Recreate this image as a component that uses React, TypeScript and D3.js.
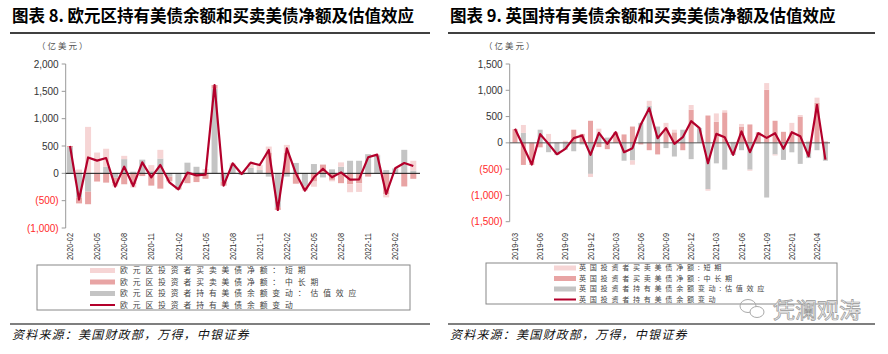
import React, { useEffect, useRef } from "react";
import * as d3 from "d3";

// 欧元区 (2020-02 ~ 2023-04)
const euMonths = [
  "2020-02", "2020-03", "2020-04", "2020-05", "2020-06", "2020-07", "2020-08", "2020-09", "2020-10", "2020-11",
  "2020-12", "2021-01", "2021-02", "2021-03", "2021-04", "2021-05", "2021-06", "2021-07", "2021-08", "2021-09",
  "2021-10", "2021-11", "2021-12", "2022-01", "2022-02", "2022-03", "2022-04", "2022-05", "2022-06", "2022-07",
  "2022-08", "2022-09", "2022-10", "2022-11", "2022-12", "2023-01", "2023-02", "2023-03", "2023-04",
];
const euShort = [0, 70, 850, 380, 330, -60, 60, -60, 0, 110, 160, -25, 0, 0, 0, 80, 0, 0, 33, 20, 95, 90, 110, 0, 140, 0, -37, -95, 0, -26, 80, -146, -160, 0, 12, -60, 0, 0, 180];
const euLong = [20, -110, -230, -150, -170, -100, -200, -200, -50, -225, -280, -80, -45, -180, -160, -100, 66, -76, 0, 0, 0, 0, 380, -50, 380, -190, -40, -150, 160, -120, -180, -200, -180, -60, 0, -380, 0, -240, -100];
const euVal = [480, -440, -335, 0, 120, -80, 260, 30, 250, 40, 270, -60, -250, 195, 120, 0, 1550, -150, 150, -30, 100, 60, -60, -620, -60, 190, -240, 170, -75, 73, 120, 230, 230, 350, 330, 60, 90, 430, 50];
const euTotal = [500, -480, 290, 232, 280, -244, 122, -232, 200, -73, 152, -165, -293, 12, -37, -24, 1616, -226, 183, -12, 195, 152, 427, -671, 457, 0, -317, -73, 85, -73, 18, -116, -110, 293, 342, -378, 92, 189, 134];
const euTicks = [-1000, -500, 0, 500, 1000, 1500, 2000];

// 英国 (2019-03 ~ 2022-05)
const ukMonths = [
  "2019-03", "2019-04", "2019-05", "2019-06", "2019-07", "2019-08", "2019-09", "2019-10", "2019-11", "2019-12",
  "2020-01", "2020-02", "2020-03", "2020-04", "2020-05", "2020-06", "2020-07", "2020-08", "2020-09", "2020-10",
  "2020-11", "2020-12", "2021-01", "2021-02", "2021-03", "2021-04", "2021-05", "2021-06", "2021-07", "2021-08",
  "2021-09", "2021-10", "2021-11", "2022-01", "2022-02", "2022-03", "2022-04", "2022-05",
];
const ukShort = [0, 150, 0, 0, 170, 10, 40, 0, 0, -60, 100, 0, 0, 0, -80, 0, 100, 0, 130, 50, 0, 90, 0, -30, 160, 40, 20, 50, -20, -20, 127, -20, 0, 180, 30, 40, 100, 0];
const ukLong = [260, -420, -420, -85, 0, 0, 0, 250, 170, 420, -80, -120, 200, 160, 310, -30, -140, -220, 250, 200, -140, 630, 0, 520, 400, 580, 0, 310, 350, 200, 1010, 420, 210, 200, 500, 0, 760, 25];
const ukVal = [0, 190, 0, 250, -178, -228, -130, -160, -30, -590, 170, 100, 0, -340, -336, 380, 700, 310, -100, -260, 250, -310, 280, -880, -390, -510, -230, -140, -510, 0, -1040, -220, -324, -180, -400, -290, -140, -340];
const ukTotal = [267, -70, -413, 165, -20, -216, -114, 89, 140, -229, 190, -19, 203, -178, -102, 350, 660, 89, 280, -19, 108, 413, 280, -387, 171, 108, -229, 216, -178, 184, 95, 184, -114, 203, 127, -254, 724, -318];
const ukTicks = [-1500, -1000, -500, 0, 500, 1000, 1500];

const COL = { short: "#F6D5D5", long: "#E8A4A4", val: "#C4C4C4", line: "#B3002B" };
const CJK = '"Noto Sans CJK SC", "Noto Sans", sans-serif';
const NUM = '"Liberation Sans", Arial, sans-serif';

const fmt = (v: number) => (v < 0 ? `(${d3.format(",")(-v)})` : d3.format(",")(v));

function drawPanel(root: any, p: any) {
  const g = root.append("g");
  const x = d3.scalePoint().domain(p.cats).range([p.xStart, p.xEnd]);
  const y = d3.scaleLinear().domain(p.yDomain).range(p.yRange);

  // title + rules
  g.append("text").attr("x", p.left).attr("y", 22)
    .attr("font-family", CJK).attr("font-size", 16.5).attr("font-weight", 700)
    .text(p.title);
  g.append("line").attr("x1", p.left - 2).attr("x2", p.right).attr("y1", 33).attr("y2", 33)
    .attr("stroke", "#000").attr("stroke-width", 1.5);
  g.append("text").attr("x", p.unitX).attr("y", 49)
    .attr("font-family", CJK).attr("font-size", 8.5).attr("letter-spacing", 2).attr("fill", "#555")
    .text("（亿美元）");

  // stacked bars
  const rows = p.cats.map((c: string, i: number) => ({ cat: c, val: p.val[i], long: p.long[i], short: p.short[i] }));
  const series = d3.stack().keys(["val", "long", "short"]).offset(d3.stackOffsetDiverging)(rows as any);
  g.selectAll("g.s").data(series).enter().append("g")
    .attr("fill", (s: any) => (COL as any)[s.key])
    .selectAll("rect").data((s: any) => s).enter().append("rect")
    .attr("x", (d: any) => (x(d.data.cat) as number) - p.barW / 2)
    .attr("width", p.barW)
    .attr("y", (d: any) => y(Math.max(d[0], d[1])))
    .attr("height", (d: any) => Math.abs(y(d[0]) - y(d[1])));

  // y axis
  g.append("line").attr("x1", p.axisX).attr("x2", p.axisX).attr("y1", y(p.yDomain[1])).attr("y2", y(p.yDomain[0]))
    .attr("stroke", "#999").attr("stroke-width", 1);
  p.ticks.forEach((t: number) => {
    g.append("line").attr("x1", p.axisX - 4).attr("x2", p.axisX).attr("y1", y(t)).attr("y2", y(t))
      .attr("stroke", "#999");
    g.append("text").attr("x", p.axisX - 7).attr("y", y(t)).attr("dy", "0.35em")
      .attr("text-anchor", "end").attr("font-family", NUM).attr("font-size", 10)
      .attr("fill", t < 0 ? "#FF2B2B" : "#333").text(fmt(t));
  });

  // zero line
  g.append("line").attr("x1", p.axisX).attr("x2", p.zeroEnd).attr("y1", y(0)).attr("y2", y(0))
    .attr("stroke", p.zeroColor).attr("stroke-width", 1);

  // total line
  const line = d3.line<number>().x((_, i) => x(p.cats[i]) as number).y((d) => y(d));
  g.append("path").datum(p.total).attr("d", line).attr("fill", "none")
    .attr("stroke", COL.line).attr("stroke-width", 2.2).attr("stroke-linejoin", "round");

  // x labels, every third month
  p.cats.forEach((c: string, i: number) => {
    if (i % 3 !== 0) return;
    g.append("text").attr("transform", `translate(${x(c)},${p.xLabelY}) rotate(-90)`)
      .attr("text-anchor", "end").attr("dy", "0.35em")
      .attr("font-family", NUM).attr("font-size", 9).attr("fill", "#333")
      .attr("textLength", 27).attr("lengthAdjust", "spacingAndGlyphs")
      .text(c);
  });

  // legend
  const L = p.legend;
  g.append("rect").attr("x", L.x).attr("y", L.y).attr("width", L.w).attr("height", L.h)
    .attr("fill", "#fff").attr("stroke", "#888").attr("stroke-width", 1);
  const items = [
    { c: COL.short, t: L.labels[0], kind: "bar" },
    { c: COL.long, t: L.labels[1], kind: "bar" },
    { c: COL.val, t: L.labels[2], kind: "bar" },
    { c: COL.line, t: L.labels[3], kind: "line" },
  ];
  items.forEach((it, k) => {
    const cy = L.rowY + k * L.step;
    if (it.kind === "bar") {
      g.append("rect").attr("x", L.swX).attr("y", cy - 2.5).attr("width", L.swW).attr("height", 5).attr("fill", it.c);
    } else {
      g.append("line").attr("x1", L.swX).attr("x2", L.swX + L.swW).attr("y1", cy).attr("y2", cy)
        .attr("stroke", it.c).attr("stroke-width", 2);
    }
    g.append("text").attr("x", L.txtX).attr("y", cy).attr("dy", "0.35em")
      .attr("font-family", CJK).attr("font-size", L.fs).attr("font-weight", 400)
      .attr("letter-spacing", L.ls).attr("fill", "#444").text(it.t);
  });

  // bottom rule + source
  g.append("line").attr("x1", p.left - 2).attr("x2", p.right).attr("y1", 324).attr("y2", 324)
    .attr("stroke", "#000").attr("stroke-width", 1.2);
  g.append("text").attr("x", p.left).attr("y", 339)
    .attr("font-family", CJK).attr("font-size", 12).attr("font-style", "italic")
    .attr("letter-spacing", 1.2).attr("fill", "#111")
    .text("资料来源：美国财政部，万得，中银证券");
}

export default function App() {
  const ref = useRef<SVGSVGElement | null>(null);

  useEffect(() => {
    const svg = d3.select(ref.current);
    svg.selectAll("*").remove();
    svg.append("rect").attr("width", 888).attr("height", 354).attr("fill", "#fff");

    drawPanel(svg, {
      cats: euMonths, short: euShort, long: euLong, val: euVal, total: euTotal,
      xStart: 70, xEnd: 413.3, yDomain: [-1000, 2000], yRange: [228, 64], ticks: euTicks,
      axisX: 65.7, barW: 6, zeroEnd: 420, zeroColor: "#111",
      title: "图表 8. 欧元区持有美债余额和买卖美债净额及估值效应", left: 12, right: 430, unitX: 37,
      xLabelY: 233,
      legend: {
        x: 37, y: 265, w: 373, h: 45, swX: 90, swW: 25, txtX: 120, rowY: 270.5, step: 11.5,
        fs: 7.8, ls: 4.9,
        labels: [
          "欧元区投资者买卖美债净额：短期",
          "欧元区投资者买卖美债净额：中长期",
          "欧元区投资者持有美债余额变动：估值效应",
          "欧元区投资者持有美债余额变动",
        ],
      },
    });

    drawPanel(svg, {
      cats: ukMonths, short: ukShort, long: ukLong, val: ukVal, total: ukTotal,
      xStart: 515, xEnd: 825.4, yDomain: [-1500, 1500], yRange: [221.7, 64], ticks: ukTicks,
      axisX: 509.7, barW: 5, zeroEnd: 830, zeroColor: "#555",
      title: "图表 9. 英国持有美债余额和买卖美债净额及估值效应", left: 450, right: 875, unitX: 484,
      xLabelY: 233,
      legend: {
        x: 486, y: 263, w: 351, h: 41, swX: 554, swW: 22, txtX: 579, rowY: 268, step: 10.5,
        fs: 7.1, ls: 3.7,
        labels: [
          "英国投资者买卖美债净额:短期",
          "英国投资者买卖美债净额:中长期",
          "英国投资者持有美债余额变动:估值效应",
          "英国投资者持有美债余额变动",
        ],
      },
    });

    // watermark
    const wm = svg.append("g").attr("fill", "none").attr("stroke", "#aaa").attr("stroke-width", 1);
    wm.append("ellipse").attr("cx", 748).attr("cy", 306).attr("rx", 8).attr("ry", 6.5);
    wm.append("ellipse").attr("cx", 757).attr("cy", 312).attr("rx", 7).attr("ry", 5.5).attr("fill", "#fff");
    svg.append("text").attr("x", 773).attr("y", 318)
      .attr("font-family", CJK).attr("font-size", 22).attr("fill", "#eee")
      .attr("stroke", "#999").attr("stroke-width", 0.7).text("凭澜观涛");
  }, []);

  return (
    <svg ref={ref} width={888} height={354}
      style={{ position: "absolute", left: 0, top: 0, display: "block" }} />
  );
}
